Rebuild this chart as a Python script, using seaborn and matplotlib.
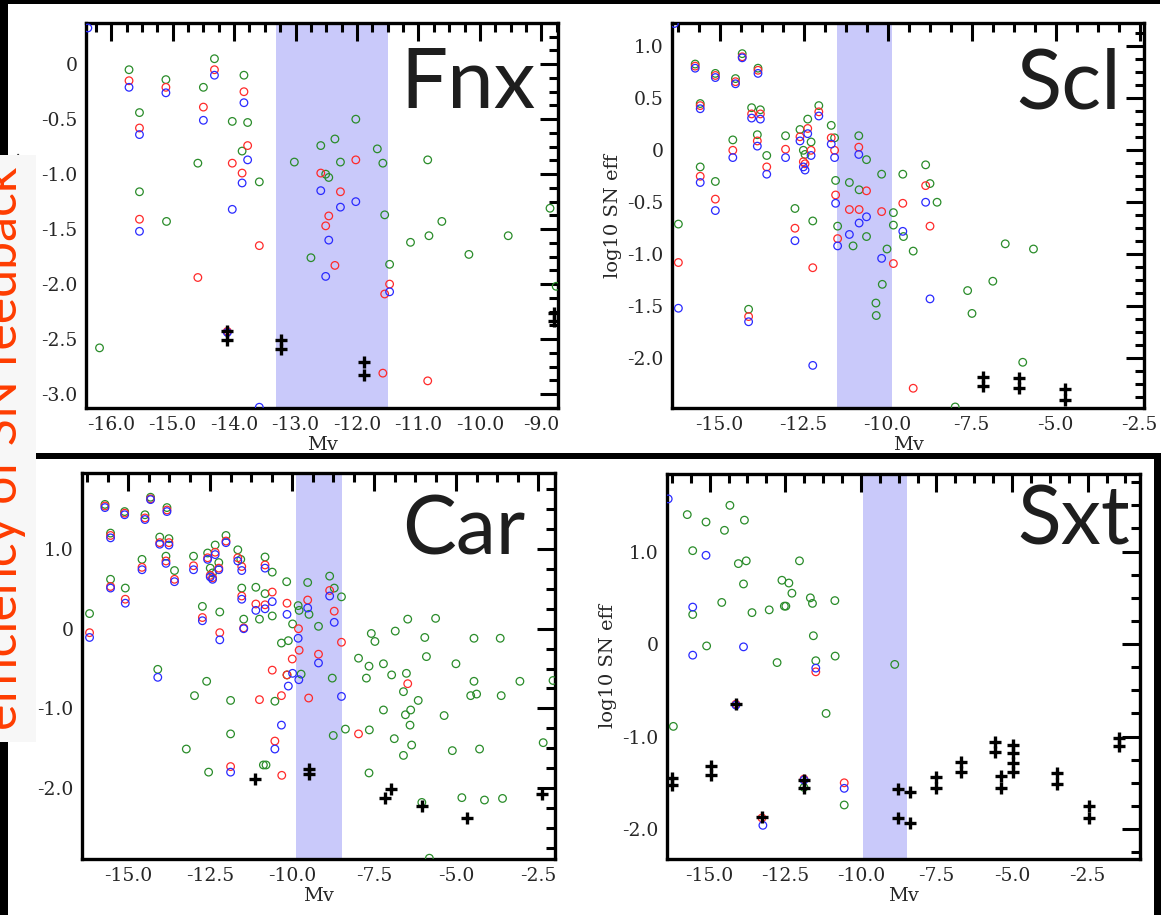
import matplotlib
matplotlib.use("Agg")
import matplotlib.pyplot as plt
import seaborn as sns
import pandas as pd
from matplotlib.patches import Rectangle
from matplotlib.ticker import MultipleLocator, FuncFormatter

# ---------------------------------------------------------------- data
# Fnx
fnx_green_mv = [-15.71, -15.54, -15.54, -15.11, -15.10, -14.32, -14.50, -14.59, -14.03, -13.84,
                -13.78, -13.87, -13.59, -16.19, -13.02, -12.75, -12.59, -12.51, -12.46, -12.36,
                -12.27, -12.02, -11.67, -11.58, -11.55, -11.47, -11.13, -10.85, -10.83, -10.62,
                -10.18, -9.54, -8.86, -8.76]
fnx_green_eff = [-0.05, -0.44, -1.16, -0.14, -1.43, 0.05, -0.21, -0.90, -0.52, -0.10,
                 -0.53, -0.79, -1.07, -2.58, -0.89, -1.76, -0.74, -1.00, -1.03, -0.68,
                 -0.89, -0.50, -0.77, -0.90, -1.37, -1.82, -1.62, -0.87, -1.56, -1.43,
                 -1.73, -1.56, -1.31, -2.02]
fnx_red_mv = [-15.71, -15.54, -15.54, -15.11, -14.50, -14.59, -14.32, -14.03, -13.87, -13.84,
              -13.78, -13.59, -14.11, -12.59, -12.51, -12.46, -12.36, -12.27, -12.02, -11.55,
              -11.47, -11.58, -10.85]
fnx_red_eff = [-0.15, -0.58, -1.41, -0.21, -0.39, -1.94, -0.05, -0.90, -0.99, -0.25,
               -0.74, -1.65, -2.43, -0.99, -1.47, -1.38, -1.83, -1.16, -0.87, -2.09,
               -2.00, -2.81, -2.88]
fnx_blue_mv = [-15.71, -15.54, -15.54, -15.11, -14.50, -14.32, -14.03, -13.87, -13.84, -13.78,
               -12.59, -12.51, -12.46, -12.27, -12.02, -11.47, -13.59, -16.38, -14.11]
fnx_blue_eff = [-0.21, -0.64, -1.52, -0.26, -0.51, -0.10, -1.32, -1.08, -0.35, -0.87,
                -1.15, -1.93, -1.60, -1.30, -1.25, -2.07, -3.12, 0.33, -2.44]
fnx_obs_mv = [-14.11, -14.11, -13.24, -13.24, -11.88, -11.88, -8.79, -8.79]
fnx_obs_eff = [-2.43, -2.51, -2.51, -2.59, -2.71, -2.83, -2.26, -2.34]

# Scl
scl_green_mv = [-15.73, -15.58, -15.58, -15.13, -15.13, -14.53, -14.61, -14.33, -14.05, -13.86,
                -13.79, -13.88, -13.60, -14.14, -13.04, -12.76, -12.61, -12.51, -12.46, -12.38,
                -12.28, -12.23, -12.05, -11.68, -11.58, -11.55, -11.49, -11.14, -11.03, -10.86,
                -10.85, -10.63, -10.63, -10.18, -10.02, -10.16, -10.35, -10.34, -9.83, -9.83,
                -9.55, -9.53, -9.24, -8.87, -8.74, -8.53, -16.23, -7.99, -7.62, -7.49,
                -6.87, -6.50, -5.98, -5.66]
scl_green_eff = [0.83, 0.45, -0.16, 0.74, -0.30, 0.69, 0.10, 0.93, 0.41, 0.79,
                 0.39, 0.15, -0.05, -1.53, 0.14, -0.56, 0.20, 0.00, -0.04, 0.30,
                 0.08, -0.68, 0.43, 0.24, 0.12, -0.29, -0.73, -0.31, -0.92, 0.14,
                 -0.38, -0.09, -0.83, -0.23, -0.95, -1.29, -1.47, -1.59, -0.60, -0.72,
                 -0.23, -0.83, -0.97, -0.14, -0.32, -0.50, -0.71, -2.47, -1.35, -1.57,
                 -1.26, -0.90, -2.04, -0.95]
scl_red_mv = [-15.73, -15.58, -15.58, -15.13, -15.13, -14.53, -14.61, -14.33, -14.05, -13.86,
              -13.79, -13.88, -13.60, -14.14, -13.04, -12.76, -12.61, -12.51, -12.46, -12.38,
              -12.28, -12.23, -12.05, -11.68, -11.58, -11.55, -11.49, -11.14, -10.85, -10.86,
              -10.63, -10.18, -9.83, -9.55, -8.87, -8.74, -16.23, -9.24]
scl_red_eff = [0.81, 0.43, -0.25, 0.72, -0.47, 0.66, 0.00, 0.90, 0.35, 0.77,
               0.35, 0.09, -0.16, -1.60, 0.01, -0.75, 0.13, -0.11, -0.13, 0.21,
               0.00, -1.13, 0.37, 0.12, 0.00, -0.43, -0.85, -0.57, -0.57, 0.03,
               -0.39, -0.59, -1.09, -0.51, -0.34, -0.73, -1.08, -2.29]
scl_blue_mv = [-15.73, -15.58, -15.58, -15.13, -15.13, -14.53, -14.61, -14.33, -14.05, -13.86,
               -13.79, -13.88, -13.60, -14.14, -13.04, -12.76, -12.61, -12.51, -12.46, -12.38,
               -12.28, -12.23, -12.05, -11.68, -11.58, -11.55, -11.49, -11.14, -10.85, -10.86,
               -10.63, -10.18, -9.55, -8.87, -8.74, -16.23, -16.35]
scl_blue_eff = [0.79, 0.40, -0.31, 0.70, -0.58, 0.64, -0.07, 0.89, 0.31, 0.74,
                0.30, 0.04, -0.23, -1.65, -0.07, -0.87, 0.09, -0.16, -0.19, 0.16,
                -0.05, -2.07, 0.33, 0.06, -0.07, -0.51, -0.92, -0.81, -0.70, -0.04,
                -0.64, -1.04, -0.78, -0.50, -1.43, -1.52, 1.22]
scl_obs_mv = [-7.17, -7.17, -6.09, -6.09, -4.71, -4.71]
scl_obs_eff = [-2.18, -2.27, -2.19, -2.29, -2.30, -2.40]

# Car
car_green_mv = [-15.71, -15.54, -15.54, -15.11, -15.09, -16.18, -14.49, -14.58, -14.32, -14.04,
                -14.10, -13.85, -13.82, -13.76, -13.59, -13.23, -13.01, -12.98, -12.74, -12.61,
                -12.58, -12.55, -12.50, -12.43, -12.35, -12.24, -12.21, -12.02, -11.88, -11.88,
                -11.66, -11.57, -11.54, -11.48, -11.11, -11.00, -10.83, -10.83, -10.88, -10.80,
                -10.61, -10.61, -10.53, -10.17, -10.16, -10.12, -9.99, -10.33, -9.82, -9.79,
                -9.73, -9.53, -9.49, -9.20, -8.86, -8.72, -8.78, -8.75, -8.50, -8.38,
                -7.98, -7.74, -7.66, -7.66, -7.65, -7.59, -7.48, -7.22, -7.22, -6.97,
                -6.89, -6.86, -6.61, -6.61, -6.55, -6.52, -6.48, -6.41, -6.39, -6.36,
                -6.16, -6.05, -5.96, -5.91, -5.82, -5.63, -5.37, -5.12, -5.01, -4.83,
                -4.56, -4.46, -4.46, -4.38, -4.29, -4.14, -3.66, -3.63, -3.59, -3.06,
                -2.35, -2.05]
car_green_eff = [1.56, 1.20, 0.62, 1.47, 0.51, 0.19, 1.43, 0.87, 1.65, 1.15,
                 -0.51, 0.91, 1.52, 1.13, 0.73, -1.51, 0.91, -0.84, 0.28, -0.66,
                 0.95, -1.80, 0.76, 0.70, 1.05, 0.83, 0.21, 1.17, -0.90, -1.32,
                 0.99, 0.87, 0.51, 0.12, 0.52, 0.12, 0.90, 0.44, -1.71, -1.71,
                 0.16, 0.71, -0.91, 0.59, -0.58, -0.15, 0.06, -0.18, 0.29, 0.23,
                 -0.57, 0.58, 0.18, 0.03, 0.66, 0.51, -0.62, -1.34, 0.40, -1.26,
                 -0.37, -0.62, -0.47, -1.81, -1.27, -0.06, -0.16, -0.44, -1.02, -0.58,
                 -1.38, -0.03, -0.79, -1.59, -1.08, -0.56, 0.12, -1.21, -1.02, -1.46,
                 -0.90, -2.18, -0.11, -0.35, -2.88, 0.13, -1.09, -1.53, -0.44, -2.12,
                 -0.84, -0.12, -0.66, -0.82, -1.51, -2.15, -0.12, -0.84, -2.13, -0.66,
                 -1.43, -0.65]
car_red_mv = [-15.71, -15.54, -15.54, -15.11, -15.09, -16.18, -14.49, -14.58, -14.32, -14.04,
              -13.85, -13.82, -13.76, -13.59, -13.01, -12.74, -12.58, -12.50, -12.43, -12.35,
              -12.24, -12.21, -12.02, -11.88, -11.66, -11.54, -11.54, -11.48, -11.11, -11.00,
              -10.83, -10.83, -10.61, -10.61, -10.53, -10.33, -10.32, -10.16, -10.00, -10.16,
              -9.81, -9.79, -9.53, -9.50, -9.20, -8.86, -8.72, -8.50, -7.98, -6.48]
car_red_eff = [1.54, 1.17, 0.53, 1.45, 0.37, -0.05, 1.39, 0.77, 1.63, 1.08,
               0.85, 1.49, 1.08, 0.62, 0.79, 0.14, 0.89, 0.67, 0.64, 0.96,
               0.76, -0.05, 1.10, -1.73, 0.89, 0.41, 0.78, 0.01, 0.31, -0.89,
               0.80, 0.30, 0.46, -0.52, -1.41, -0.84, -1.84, 0.32, -0.38, -0.58,
               0.00, -0.27, 0.36, -0.87, -0.32, 0.48, 0.22, -0.17, -1.32, -0.69]
car_blue_mv = [-15.71, -15.54, -15.54, -15.11, -15.09, -16.18, -14.49, -14.58, -14.32, -14.10,
               -14.04, -13.85, -13.82, -13.76, -13.59, -13.01, -12.74, -12.58, -12.50, -12.43,
               -12.35, -12.24, -12.21, -12.02, -11.88, -11.66, -11.54, -11.54, -11.48, -11.11,
               -10.83, -10.83, -10.61, -10.53, -10.33, -10.16, -10.12, -9.99, -9.82, -9.80,
               -9.53, -9.20, -8.86, -8.72, -8.50]
car_blue_eff = [1.52, 1.14, 0.51, 1.43, 0.32, -0.11, 1.37, 0.74, 1.62, -0.61,
                1.06, 0.82, 1.47, 1.05, 0.59, 0.74, 0.10, 0.87, 0.65, 0.62,
                0.93, 0.74, -0.14, 1.08, -1.80, 0.85, 0.73, 0.37, 0.00, 0.23,
                0.76, 0.25, 0.34, -1.51, -1.21, 0.18, -0.72, -0.56, -0.12, -0.64,
                0.26, -0.43, 0.41, 0.08, -0.85]
car_obs_mv = [-11.15, -9.50, -9.50, -7.17, -6.99, -6.05, -4.67, -2.38]
car_obs_eff = [-1.89, -1.76, -1.82, -2.12, -2.01, -2.22, -2.38, -2.08]

# Sxt
sxt_green_mv = [-15.74, -15.56, -15.56, -15.12, -15.10, -16.20, -14.60, -14.51, -14.33, -14.05,
                -13.88, -13.85, -13.79, -13.60, -13.03, -12.77, -12.61, -12.53, -12.48, -12.38,
                -12.28, -12.03, -11.67, -11.60, -11.57, -11.49, -11.15, -10.86, -10.85, -10.55,
                -8.88, -11.88]
sxt_green_eff = [1.40, 1.01, 0.32, 1.32, -0.02, -0.89, 0.45, 1.23, 1.50, 0.87,
                 0.65, 1.34, 0.90, 0.34, 0.37, -0.20, 0.69, 0.41, 0.41, 0.66,
                 0.55, 0.90, 0.50, 0.44, 0.09, -0.18, -0.75, 0.47, -0.13, -1.74,
                 -0.22, -1.55]
sxt_red_mv = [-11.49, -10.55, -13.27, -11.88, -14.13]
sxt_red_eff = [-0.30, -1.50, -1.88, -1.46, -0.65]
sxt_blue_mv = [-16.37, -15.56, -15.56, -15.12, -13.88, -11.49, -10.55, -13.24, -11.88, -14.13]
sxt_blue_eff = [1.57, 0.40, -0.12, 0.96, -0.03, -0.26, -1.56, -1.96, -1.47, -0.66]
sxt_obs_mv = [-16.25, -16.25, -14.94, -14.94, -14.13, -13.27, -11.88, -11.88, -8.77, -8.77,
              -8.39, -8.39, -7.53, -7.53, -6.69, -6.69, -5.57, -5.57, -5.37, -5.37,
              -4.97, -4.97, -4.97, -4.97, -3.53, -3.53, -2.47, -2.47, -1.48, -1.48]
sxt_obs_eff = [-1.45, -1.52, -1.32, -1.42, -0.65, -1.87, -1.47, -1.56, -1.57, -1.88,
               -1.60, -1.94, -1.44, -1.56, -1.28, -1.38, -1.06, -1.17, -1.43, -1.56,
               -1.09, -1.18, -1.29, -1.38, -1.39, -1.51, -1.75, -1.88, -1.02, -1.10]

# shaded magnitude ranges
fnx_band = [-13.32, -11.49]
scl_band = [-11.50, -9.88]
car_band = [-9.88, -8.47]
sxt_band = [-9.93, -8.48]

galaxy_names = ["Fnx", "Scl", "Car", "Sxt"]
x_title = "Mv"
y_title = "log10 SN eff"
side_title = "efficiency of SN feedback"

# ---------------------------------------------------------------- style
sns.set_style("white")
plt.rcParams["font.family"] = ["DejaVu Serif"]
plt.rcParams["axes.unicode_minus"] = False

GREEN = "#2a8c2a"
RED = "#ff2a2a"
BLUE = "#2a2aff"
BAND = "#c9c9fa"
ACCENT = "#ff3c00"

W, H = 1171, 915
fig = plt.figure(figsize=(W / 100, H / 100), dpi=100, facecolor="white")


def px_rect(l, t, r, b):
    return [l / W, 1 - b / H, (r - l) / W, (b - t) / H]


def fig_box(l, t, r, b, color, z=1):
    fig.patches.append(Rectangle((l / W, 1 - b / H), (r - l) / W, (b - t) / H,
                                 transform=fig.transFigure, facecolor=color,
                                 edgecolor="none", zorder=z))


def tick_fmt(v, _):
    if abs(v) < 1e-9:
        return "0"
    return f"{v:.1f}"


def panel(rect, name, green, red, blue, obs, band, xlim, ylim, xstep, ystep, yminor,
          name_xy, name_size):
    ax = fig.add_axes(rect)
    ax.axvspan(band[0], band[1], facecolor=BAND, edgecolor="none", zorder=0)
    for (xs, ys), col in ((green, GREEN), (red, RED), (blue, BLUE)):
        df = pd.DataFrame({"Mv": xs, "eff": ys})
        sns.scatterplot(data=df, x="Mv", y="eff", ax=ax, marker="o", s=30,
                        facecolor="none", edgecolor=col, linewidth=0.9, zorder=3)
    dfo = pd.DataFrame({"Mv": obs[0], "eff": obs[1]})
    sns.scatterplot(data=dfo, x="Mv", y="eff", ax=ax, marker="+", s=80,
                    color="black", edgecolor=None, linewidth=2.4, zorder=4)
    ax.set_xlim(*xlim)
    ax.set_ylim(*ylim)
    ax.xaxis.set_major_locator(MultipleLocator(xstep))
    ax.xaxis.set_minor_locator(MultipleLocator(xstep / 4))
    ax.yaxis.set_major_locator(MultipleLocator(ystep))
    ax.yaxis.set_minor_locator(MultipleLocator(yminor))
    ax.xaxis.set_major_formatter(FuncFormatter(tick_fmt))
    ax.yaxis.set_major_formatter(FuncFormatter(tick_fmt))
    ax.tick_params(which="both", direction="in", top=True, right=True,
                   width=2.2, color="black", labelsize=13.5)
    ax.tick_params(which="major", length=13, pad=6)
    ax.tick_params(which="minor", length=6.5)
    for sp in ax.spines.values():
        sp.set_linewidth(2.4)
        sp.set_color("black")
        sp.set_visible(True)
    ax.set_xlabel(x_title, fontsize=14, labelpad=1)
    ax.set_ylabel(y_title, fontsize=14, labelpad=4)
    ax.text(name_xy[0], name_xy[1], name, transform=ax.transAxes, ha="right",
            va="baseline", fontsize=name_size, family="Lato", color="#1e1e1e", zorder=5)
    return ax


panel(px_rect(86, 23, 558, 408), galaxy_names[0],
      (fnx_green_mv, fnx_green_eff), (fnx_red_mv, fnx_red_eff), (fnx_blue_mv, fnx_blue_eff),
      (fnx_obs_mv, fnx_obs_eff), fnx_band, (-16.41, -8.73), (-3.127, 0.375),
      1.0, 0.5, 0.125, (0.953, 0.779), 60)
panel(px_rect(672, 23, 1144, 408), galaxy_names[1],
      (scl_green_mv, scl_green_eff), (scl_red_mv, scl_red_eff), (scl_blue_mv, scl_blue_eff),
      (scl_obs_mv, scl_obs_eff), scl_band, (-16.42, -2.37), (-2.48, 1.225),
      2.5, 0.5, 0.125, (0.951, 0.779), 60)
panel(px_rect(82, 473, 555, 859), galaxy_names[2],
      (car_green_mv, car_green_eff), (car_red_mv, car_red_eff), (car_blue_mv, car_blue_eff),
      (car_obs_mv, car_obs_eff), car_band, (-16.41, -1.99), (-2.89, 1.954),
      2.5, 1.0, 0.25, (0.937, 0.788), 58)
panel(px_rect(667, 474, 1140, 859), galaxy_names[3],
      (sxt_green_mv, sxt_green_eff), (sxt_red_mv, sxt_red_eff), (sxt_blue_mv, sxt_blue_eff),
      (sxt_obs_mv, sxt_obs_eff), sxt_band, (-16.41, -0.77), (-2.324, 1.839),
      2.5, 1.0, 0.25, (0.979, 0.816), 58)

# black frame around the slide
fig_box(0, 0, 1160, 4, "black")
fig_box(0, 0, 8, H, "black")
fig_box(0, 453, 1160, 459, "black")
fig_box(1154, 453, 1161, H, "black")
# side caption box
fig_box(0, 155, 36, 742, "#f7f7f7", z=5)
fig.text(17 / W, 1 - 448 / H, side_title, rotation=90, rotation_mode="anchor",
         ha="center", va="baseline", fontsize=36, family="Lato", color=ACCENT, zorder=6)

fig.savefig("out.png", dpi=100, facecolor="white")
